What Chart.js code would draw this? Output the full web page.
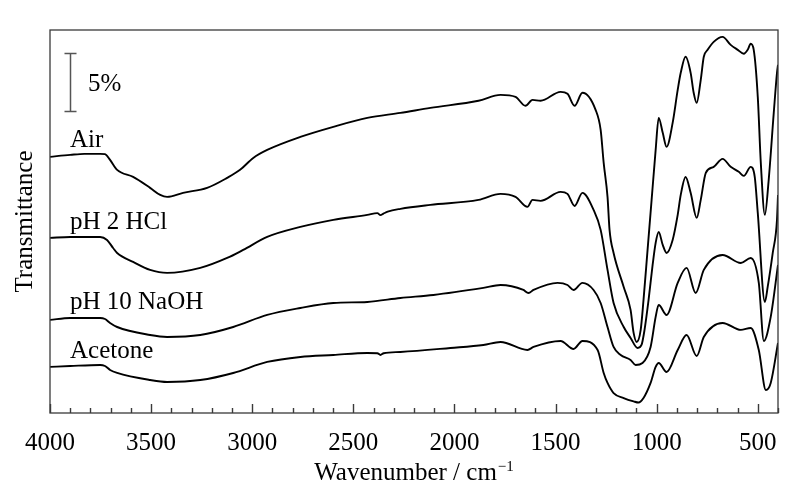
<!DOCTYPE html>
<html>
<head>
<meta charset="utf-8">
<script src="https://cdn.jsdelivr.net/npm/chart.js@4.4.1/dist/chart.umd.min.js"></script>
<style>
  html, body { margin: 0; padding: 0; background: #fff; }
  #wrap { width: 798px; height: 493px; }
</style>
</head>
<body>
<div id="wrap"><canvas id="ftir"></canvas></div>
<script>
// Tick labels on the wavenumber axis
const xTickLabels = [4000, 3500, 3000, 2500, 2000, 1500, 1000, 500];

// Spectra (wavenumber / cm-1, transmittance in % with stacking offset)
const airWn = [4000,3900,3830,3752,3728,3703,3668,3589,3505,3455,3421,3342,3223,3124,3060,2995,2926,2762,2599,2431,2267,2119,1881,1772,1698,1649,1614,1574,1475,1441,1406,1367,1302,1277,1262,1243,1233,1213,1163,1129,1114,1099,1079,1065,1045,1025,1005,990,970,951,921,896,881,857,832,817,802,782,767,748,718,674,634,599,569,550,535,520,500,485,465,446,421,405,400];
const airT  = [22.07,22.24,22.33,22.33,22.30,21.81,20.95,20.34,19.40,18.79,18.62,18.97,19.40,20.26,20.95,21.98,22.67,23.79,24.66,25.43,25.86,26.29,26.90,27.41,27.24,26.47,26.98,26.90,27.67,27.50,26.47,27.59,26.12,24.40,21.55,18.62,15.78,13.79,10.86,8.88,6.90,6.12,7.16,9.74,14.05,18.36,22.67,25.43,24.14,22.93,25.00,27.84,29.31,30.69,29.31,27.59,26.72,28.71,30.69,31.29,31.98,32.41,31.72,31.29,30.95,31.29,31.81,31.29,27.24,21.55,17.07,20.09,25.86,29.31,30.00];

const hclWn = [4000,3900,3752,3718,3688,3668,3589,3505,3421,3257,3124,3045,2926,2762,2599,2431,2381,2366,2351,2330,2267,2119,1881,1772,1698,1639,1614,1574,1475,1441,1406,1367,1312,1277,1243,1213,1163,1129,1094,1075,1060,1040,1020,1005,990,970,951,921,896,881,857,832,802,782,757,718,674,634,594,569,535,515,500,465,451,426,405,400];
const hclT  = [15.09,15.17,15.17,14.91,14.22,13.79,13.02,12.33,12.07,12.50,13.36,14.05,15.17,16.03,16.64,17.07,17.22,17.05,17.18,17.35,17.59,17.93,18.36,18.88,18.62,17.76,18.36,18.28,19.05,18.88,17.84,18.97,17.50,15.78,12.33,9.48,7.41,6.47,5.60,5.86,7.16,9.74,12.76,14.66,15.60,14.48,13.79,14.91,17.07,18.79,20.34,18.97,16.81,18.36,20.69,21.21,21.90,21.21,20.78,20.43,21.21,20.34,17.24,9.57,10.86,13.79,16.64,18.79];

const naohWn = [4000,3900,3752,3728,3703,3668,3505,3421,3257,3094,2926,2762,2599,2431,2267,2104,1857,1772,1659,1634,1609,1490,1441,1411,1367,1312,1277,1243,1213,1178,1129,1104,1070,1030,1005,990,951,896,852,807,767,674,584,535,495,470,436,400];
const naohT  = [8.02,8.19,8.19,8.10,7.76,7.41,6.72,6.55,6.72,7.41,8.45,9.05,9.48,9.57,9.91,10.17,10.78,11.03,10.60,10.34,10.60,11.21,11.03,10.60,11.21,10.60,9.48,7.41,5.69,5.00,4.57,4.14,4.31,5.69,8.28,9.31,8.45,11.21,12.50,10.34,12.33,13.62,12.93,13.36,11.21,6.21,8.28,12.76];

const acetWn = [4000,3900,3752,3728,3703,3668,3505,3421,3257,3094,2926,2762,2599,2431,2381,2366,2350,2267,2020,1857,1772,1639,1609,1475,1411,1367,1292,1262,1243,1213,1163,1114,1090,1065,1030,1005,990,951,896,852,802,767,674,584,535,495,460,436,400];
const acetT  = [3.97,4.05,4.14,4.05,3.71,3.45,2.84,2.67,2.84,3.45,4.40,4.83,5.00,5.17,5.15,5.00,5.15,5.26,5.60,5.86,6.12,5.43,5.69,6.21,5.52,6.21,5.43,3.45,2.59,1.72,1.29,1.00,0.90,1.29,2.59,3.97,4.31,3.53,5.43,6.72,4.91,6.55,7.76,7.16,7.33,5.43,1.98,2.59,6.03];

const seriesNames = ['Air', 'pH 2 HCl', 'pH 10 NaOH', 'Acetone'];

function toPoints(wn, t){
  return wn.map((w, i) => ({x: w, y: t[i]}));
}

const serif = 'Liberation Serif, Times New Roman, serif';

// Frame, inward ticks, labels, scale bar and axis titles
const overlay = {
  id: 'overlay',
  afterDraw(chart){
    const {ctx, chartArea: a, scales: {x, y}} = chart;
    ctx.save();

    // frame
    ctx.strokeStyle = '#3a3a3a';
    ctx.lineWidth = 1.3;
    ctx.strokeRect(a.left, a.top, a.right - a.left, a.bottom - a.top);

    // inward ticks on the bottom axis
    ctx.lineWidth = 1.4;
    ctx.beginPath();
    for(let w = 4000; w >= 400; w -= 100){
      let px = Math.round(x.getPixelForValue(w)) + 0.5;
      let len = (w % 500 === 0) ? 9 : 5;
      ctx.moveTo(px, a.bottom);
      ctx.lineTo(px, a.bottom - len);
    }
    ctx.stroke();

    // 5% scale bar
    let bx = 70.5;
    let yTop = Math.round(y.getPixelForValue(31)) + 0.5;
    let yBot = Math.round(y.getPixelForValue(26)) + 0.5;
    ctx.strokeStyle = '#555';
    ctx.lineWidth = 1.5;
    ctx.beginPath();
    ctx.moveTo(bx, yTop); ctx.lineTo(bx, yBot);
    ctx.moveTo(bx - 6, yTop); ctx.lineTo(bx + 6, yTop);
    ctx.moveTo(bx - 6, yBot); ctx.lineTo(bx + 6, yBot);
    ctx.stroke();

    ctx.fillStyle = '#000';
    ctx.font = '25px ' + serif;
    ctx.textAlign = 'left';
    ctx.textBaseline = 'alphabetic';
    ctx.fillText('5%', 88, 91);

    // curve labels
    const labelY = [147, 229, 309, 358];
    seriesNames.forEach((n, i) => ctx.fillText(n, 70, labelY[i]));

    // x title with superscript
    let main = 'Wavenumber / cm';
    let sup = '\u22121';
    ctx.font = '25px ' + serif;
    let wMain = ctx.measureText(main).width;
    ctx.font = '15px ' + serif;
    let wSup = ctx.measureText(sup).width;
    let cx = (a.left + a.right) / 2;
    let sx = cx - (wMain + wSup + 1) / 2;
    ctx.font = '25px ' + serif;
    ctx.fillText(main, sx, 480);
    ctx.font = '15px ' + serif;
    ctx.fillText(sup, sx + wMain + 1, 471);

    // y title
    ctx.font = '25px ' + serif;
    ctx.translate(32, (a.top + a.bottom) / 2);
    ctx.rotate(-Math.PI / 2);
    ctx.textAlign = 'center';
    ctx.fillText('Transmittance', 0, 0);

    ctx.restore();
  }
};

const lineStyle = {
  borderColor: '#000',
  borderWidth: 1.9,
  pointRadius: 0,
  fill: false,
  cubicInterpolationMode: 'monotone'
};

new Chart(document.getElementById('ftir'), {
  type: 'line',
  data: {
    datasets: [
      {label: seriesNames[0], data: toPoints(airWn, airT), ...lineStyle},
      {label: seriesNames[1], data: toPoints(hclWn, hclT), ...lineStyle},
      {label: seriesNames[2], data: toPoints(naohWn, naohT), ...lineStyle},
      {label: seriesNames[3], data: toPoints(acetWn, acetT), ...lineStyle}
    ]
  },
  options: {
    responsive: true,
    maintainAspectRatio: false,
    animation: false,
    layout: {padding: {left: 50, right: 20, top: 30, bottom: 20}},
    plugins: {legend: {display: false}, tooltip: {enabled: false}},
    scales: {
      x: {
        type: 'linear',
        reverse: true,
        min: 400,
        max: 4000,
        grid: {display: false, drawTicks: false},
        border: {display: false},
        afterBuildTicks: s => { s.ticks = xTickLabels.map(v => ({value: v})); },
        afterFit: s => { s.height = 60; },
        ticks: {
          font: {family: serif, size: 25},
          color: '#000',
          padding: 15,
          maxRotation: 0,
          autoSkip: false,
          callback: v => String(v)
        }
      },
      y: {
        display: false,
        min: 0,
        max: 33
      }
    }
  },
  plugins: [overlay]
});
</script>
</body>
</html>
